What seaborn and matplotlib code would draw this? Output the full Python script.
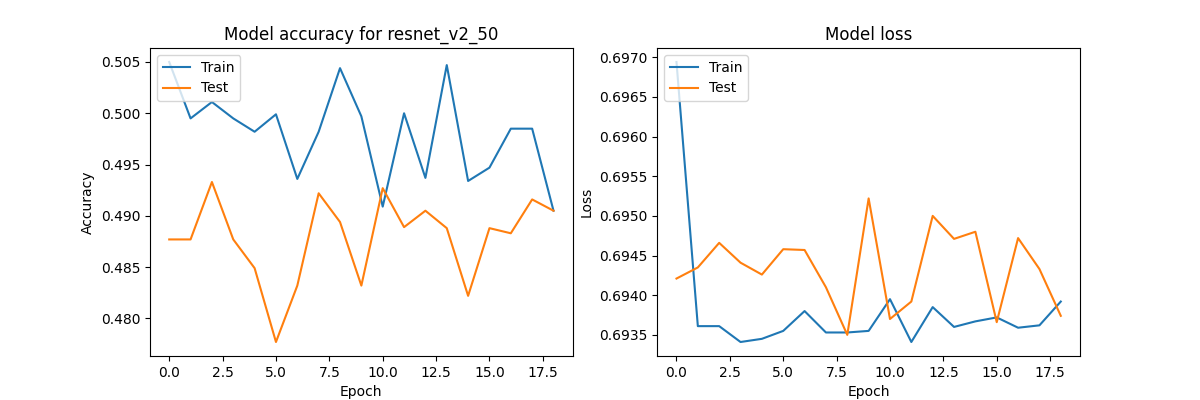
import matplotlib
matplotlib.use("Agg")
import matplotlib.pyplot as plt
import seaborn as sns
import pandas as pd

epochs = list(range(19))
train_acc = [0.5050, 0.4995, 0.5011, 0.4995, 0.4982, 0.4999, 0.4936, 0.4982, 0.5044, 0.4997,
             0.4909, 0.5000, 0.4937, 0.5047, 0.4934, 0.4947, 0.4985, 0.4985, 0.4905]
test_acc = [0.4877, 0.4877, 0.4933, 0.4877, 0.4849, 0.4777, 0.4832, 0.4922, 0.4894, 0.4832,
            0.4927, 0.4889, 0.4905, 0.4888, 0.4822, 0.4888, 0.4883, 0.4916, 0.4905]
train_loss = [0.69694, 0.69361, 0.69361, 0.69341, 0.69345, 0.69355, 0.69380, 0.69353, 0.69353, 0.69355,
              0.69395, 0.69341, 0.69385, 0.69360, 0.69367, 0.69372, 0.69359, 0.69362, 0.69392]
test_loss = [0.69421, 0.69435, 0.69466, 0.69441, 0.69426, 0.69458, 0.69457, 0.69410, 0.69350, 0.69522,
             0.69370, 0.69392, 0.69500, 0.69471, 0.69480, 0.69366, 0.69472, 0.69433, 0.69374]

fig, (ax1, ax2) = plt.subplots(1, 2, figsize=(12, 4), dpi=100)

sns.lineplot(x=epochs, y=train_acc, ax=ax1, label="Train", color="#1f77b4")
sns.lineplot(x=epochs, y=test_acc, ax=ax1, label="Test", color="#ff7f0e")
ax1.set_title("Model accuracy for resnet_v2_50")
ax1.set_xlabel("Epoch")
ax1.set_ylabel("Accuracy")
ax1.legend(loc="upper left")

sns.lineplot(x=epochs, y=train_loss, ax=ax2, label="Train", color="#1f77b4")
sns.lineplot(x=epochs, y=test_loss, ax=ax2, label="Test", color="#ff7f0e")
ax2.set_title("Model loss")
ax2.set_xlabel("Epoch")
ax2.set_ylabel("Loss")
ax2.legend(loc="upper left")

fig.savefig("out.png")
